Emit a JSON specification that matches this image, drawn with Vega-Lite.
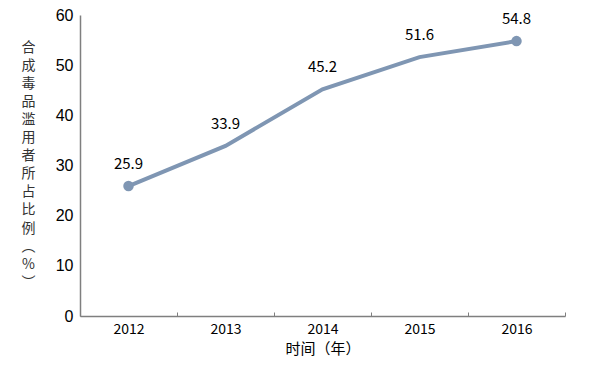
{
  "$schema": "https://vega.github.io/schema/vega-lite/v6.json",
  "width": 485,
  "height": 301,
  "autosize": {"type": "none"},
  "padding": {"left": 80, "top": 15, "right": 29, "bottom": 62},
  "background": "white",
  "config": {"view": {"stroke": null}},
  "data": {"values": [
    {"year": "2012", "value": 25.9, "label": "25.9"},
    {"year": "2013", "value": 33.9, "label": "33.9"},
    {"year": "2014", "value": 45.2, "label": "45.2"},
    {"year": "2015", "value": 51.6, "label": "51.6"},
    {"year": "2016", "value": 54.8, "label": "54.8"}
  ]},
  "encoding": {
    "x": {
      "field": "year", "type": "ordinal",
      "scale": {"paddingInner": 0, "paddingOuter": 0},
      "axis": {
        "title": "时间（年）", "labelAngle": 0,
        "labelFont": "Noto Sans CJK SC", "labelFontSize": 14, "labelColor": "#000",
        "labelPadding": 10,
        "titleFont": "Noto Sans CJK SC", "titleFontSize": 15, "titleFontWeight": "normal", "titleColor": "#000",
        "titlePadding": 5,
        "domainColor": "#7f7f7f", "domainWidth": 1.5,
        "tickBand": "extent", "tickSize": -4, "tickColor": "#7f7f7f",
        "grid": false
      }
    },
    "y": {
      "field": "value", "type": "quantitative",
      "scale": {"domain": [0, 60], "nice": false},
      "axis": {
        "values": [0, 10, 20, 30, 40, 50, 60],
        "title": ["合", "成", "毒", "品", "滥", "用", "者", "所", "占", "比", "例", "︵", "%", "︶"],
        "titleAngle": 0, "titleX": -52, "titleY": 32, "titleAlign": "center", "titleBaseline": "middle",
        "titleFont": "Noto Sans CJK SC", "titleFontSize": 14, "titleFontWeight": "normal", "titleColor": "#333",
        "titleLineHeight": 18.1,
        "labelFont": "Liberation Sans", "labelFontSize": 16, "labelColor": "#000", "labelPadding": 7,
        "domainColor": "#7f7f7f", "domainWidth": 1.5,
        "ticks": false, "grid": false
      }
    }
  },
  "layer": [
    {"mark": {"type": "line", "color": "#7f96b3", "strokeWidth": 4}},
    {
      "transform": [{"filter": "datum.year == '2012' || datum.year == '2016'"}],
      "mark": {"type": "point", "filled": true, "color": "#7f96b3", "size": 110, "opacity": 1}
    },
    {
      "mark": {"type": "text", "dy": -22, "font": "Noto Sans CJK SC", "fontSize": 15, "color": "#000"},
      "encoding": {"text": {"field": "label"}}
    }
  ]
}
